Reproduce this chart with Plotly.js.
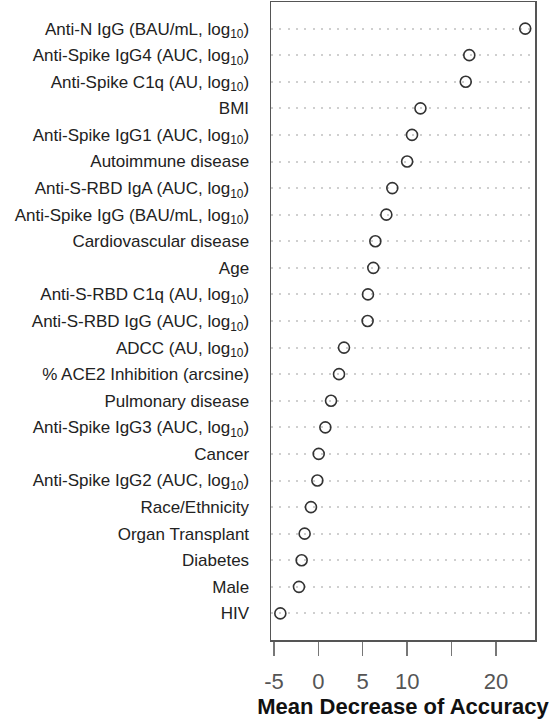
<!DOCTYPE html>
<html>
<head>
<meta charset="utf-8">
<script src="https://cdn.plot.ly/plotly-3.0.1.min.js"></script>
<style>html,body{margin:0;padding:0;background:#fff;}#chart{width:556px;height:727px;}</style>
</head>
<body>
<div id="chart"></div>
<script>
// Variables listed top to bottom as in the chart
const variables = [
  "Anti-N IgG (BAU/mL, log<sub>10</sub>)",
  "Anti-Spike IgG4 (AUC, log<sub>10</sub>)",
  "Anti-Spike C1q (AU, log<sub>10</sub>)",
  "BMI",
  "Anti-Spike IgG1 (AUC, log<sub>10</sub>)",
  "Autoimmune disease",
  "Anti-S-RBD IgA (AUC, log<sub>10</sub>)",
  "Anti-Spike IgG (BAU/mL, log<sub>10</sub>)",
  "Cardiovascular disease",
  "Age",
  "Anti-S-RBD C1q (AU, log<sub>10</sub>)",
  "Anti-S-RBD IgG (AUC, log<sub>10</sub>)",
  "ADCC (AU, log<sub>10</sub>)",
  "% ACE2 Inhibition (arcsine)",
  "Pulmonary disease",
  "Anti-Spike IgG3 (AUC, log<sub>10</sub>)",
  "Cancer",
  "Anti-Spike IgG2 (AUC, log<sub>10</sub>)",
  "Race/Ethnicity",
  "Organ Transplant",
  "Diabetes",
  "Male",
  "HIV"
];
const meanDecreaseAccuracy = [
  23.3, 17.0, 16.6, 11.5, 10.55, 10.0, 8.33, 7.66, 6.42, 6.19, 5.59, 5.55,
  2.89, 2.33, 1.43, 0.79, 0.04, -0.11, -0.83, -1.54, -1.88, -2.18, -4.28
];
const xTickVals = [-5, 0, 5, 10, 15, 20];
const xTickText = ["-5", "0", "5", "10", "", "20"];
const xTitle = "Mean Decrease of Accuracy";

const n = variables.length;
const yPos = variables.map((_, i) => n - i);

const trace = {
  type: "scatter",
  mode: "markers",
  x: meanDecreaseAccuracy,
  y: yPos,
  marker: {symbol: "circle-open", size: 11, color: "#333", line: {width: 1.6, color: "#333"}},
  hoverinfo: "x",
  showlegend: false
};

const layout = {
  width: 556,
  height: 727,
  margin: {l: 271, r: 21, t: 2, b: 87},
  paper_bgcolor: "#fff",
  plot_bgcolor: "#fff",
  font: {family: "Liberation Sans, Arial, sans-serif", color: "#222"},
  xaxis: {
    range: [-5.33, 24.4],
    tickvals: xTickVals,
    ticktext: xTickText,
    ticks: "outside",
    ticklen: 14,
    tickwidth: 1.5,
    tickcolor: "#777",
    ticklabelstandoff: 7,
    tickfont: {size: 22, color: "#555"},
    showgrid: false,
    zeroline: false,
    showline: true,
    linecolor: "#555",
    linewidth: 1.5,
    mirror: true,
    title: {text: "<b>" + xTitle + "</b>", font: {size: 22, color: "#111"}, standoff: 5}
  },
  yaxis: {
    range: [0, 24],
    tickvals: yPos,
    ticktext: variables,
    ticks: "outside",
    ticklen: 17,
    tickcolor: "rgba(0,0,0,0)",
    tickfont: {size: 17, color: "#222"},
    showgrid: true,
    gridcolor: "#cfcfcf",
    gridwidth: 2,
    griddash: "2px,6.3px",
    zeroline: false,
    showline: true,
    linecolor: "#555",
    linewidth: 1.5,
    mirror: true
  }
};

Plotly.newPlot("chart", [trace], layout, {displayModeBar: false, staticPlot: true});
</script>
</body>
</html>
